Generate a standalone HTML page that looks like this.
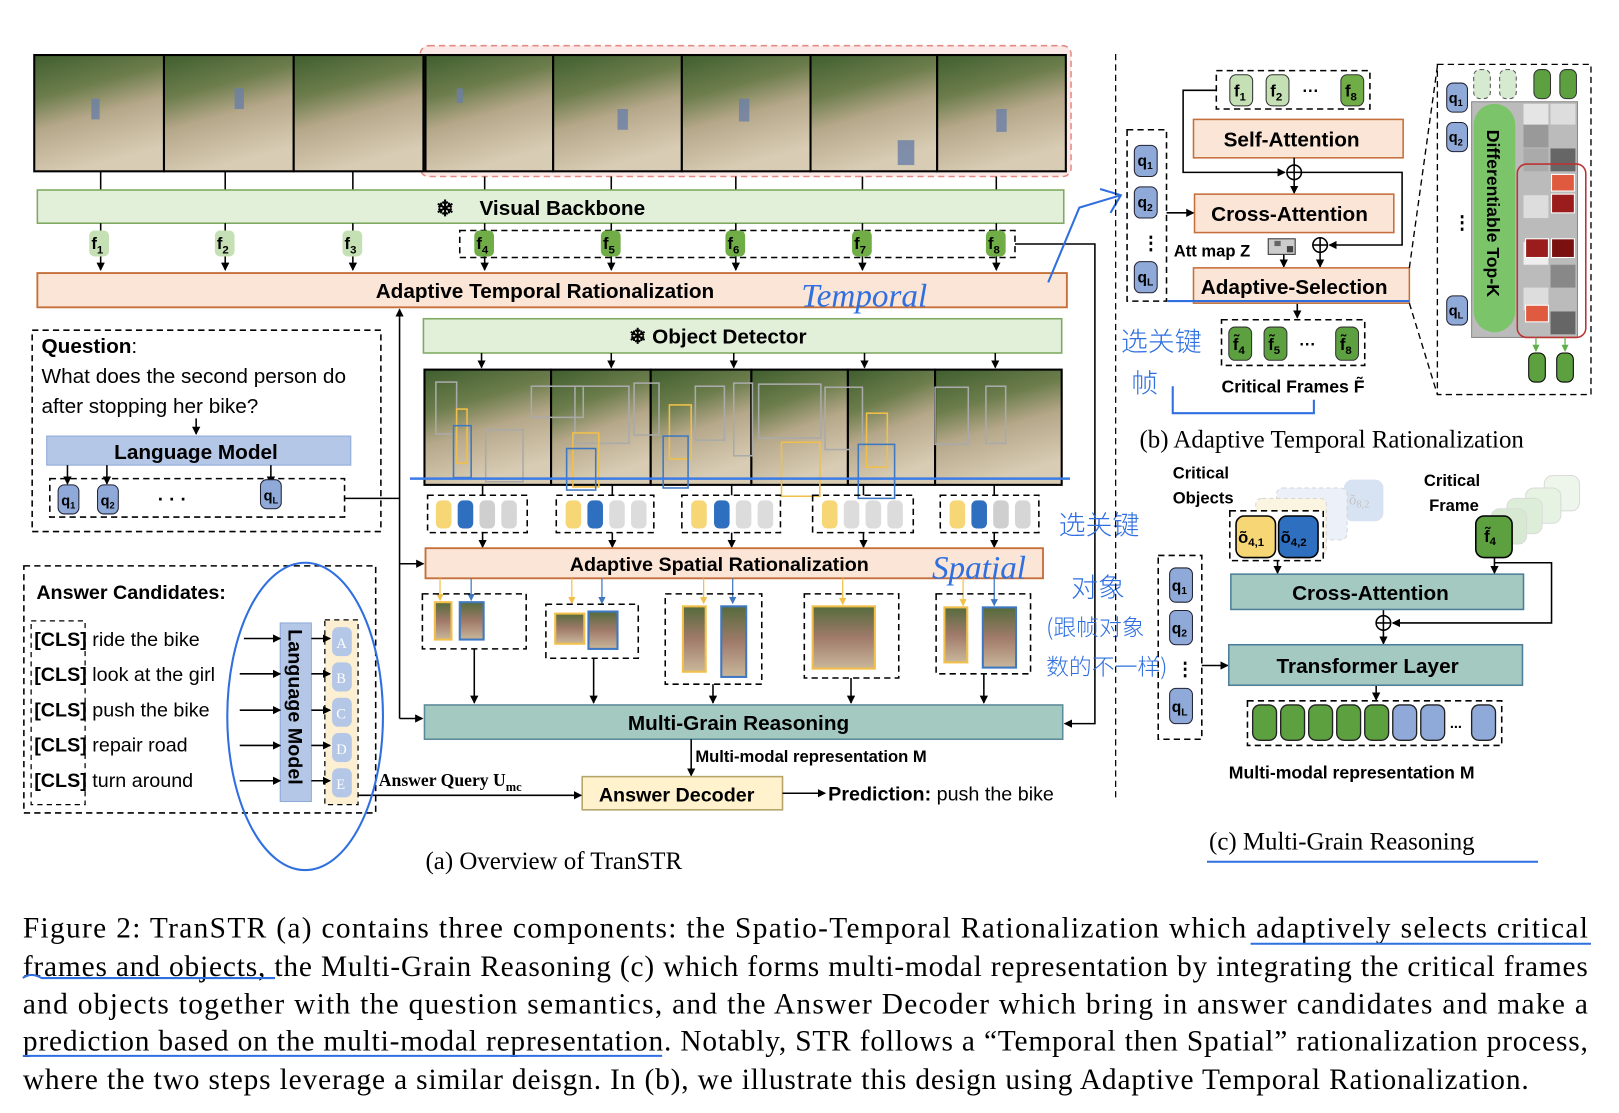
<!DOCTYPE html>
<html><head><meta charset="utf-8"><style>
html,body{margin:0;padding:0;background:#fff;width:1619px;height:1113px;overflow:hidden}
svg{display:block}
text{font-family:"Liberation Sans","Noto Sans CJK SC",sans-serif}
.b{font-weight:bold}
.serif,.serif text{font-family:"Liberation Serif","Noto Serif CJK SC",serif}
.hw,.hw text{font-family:"Noto Sans CJK SC",sans-serif}
</style></head><body>
<svg width="1619" height="1113" viewBox="0 0 1560 1072" preserveAspectRatio="none" xmlns="http://www.w3.org/2000/svg">
<defs>
<marker id="ar" markerWidth="8" markerHeight="8" refX="7" refY="4" orient="auto" markerUnits="userSpaceOnUse"><path d="M0,0L8,4L0,8z" fill="#000"/></marker>
<marker id="ay" markerWidth="7" markerHeight="7" refX="6" refY="3.5" orient="auto" markerUnits="userSpaceOnUse"><path d="M0,0L7,3.5L0,7z" fill="#f2c04a"/></marker>
<marker id="ab" markerWidth="7" markerHeight="7" refX="6" refY="3.5" orient="auto" markerUnits="userSpaceOnUse"><path d="M0,0L7,3.5L0,7z" fill="#3f78c0"/></marker>
<marker id="ag" markerWidth="7" markerHeight="7" refX="6" refY="3.5" orient="auto" markerUnits="userSpaceOnUse"><path d="M0,0L7,3.5L0,7z" fill="#5fae4a"/></marker>
<linearGradient id="ph" x1="0" y1="0" x2="0.3" y2="1">
<stop offset="0" stop-color="#3f5e2e"/><stop offset="0.35" stop-color="#6d7d4c"/><stop offset="0.6" stop-color="#b5a789"/><stop offset="1" stop-color="#d8ccb4"/></linearGradient>
<linearGradient id="ph2" x1="0" y1="0" x2="0" y2="1">
<stop offset="0" stop-color="#556b3c"/><stop offset="0.5" stop-color="#a07a6a"/><stop offset="1" stop-color="#c9b79b"/></linearGradient>
</defs>

<rect x="405" y="44" width="627" height="126" rx="8" fill="#fbe9e7" stroke="#e58b85" stroke-width="1.5" stroke-dasharray="6,4"/>
<g stroke="#000" stroke-width="2" fill="url(#ph)">
<rect x="33" y="53" width="125" height="112"/><rect x="158" y="53" width="125" height="112"/><rect x="283" y="53" width="125" height="112"/>
<rect x="410" y="53" width="123" height="112"/><rect x="533" y="53" width="124" height="112"/><rect x="657" y="53" width="124" height="112"/>
<rect x="781" y="53" width="122" height="112"/><rect x="903" y="53" width="124" height="112"/>
</g>
<g fill="#6a7fa8" opacity="0.8"><rect x="88" y="95" width="8" height="20"/><rect x="226" y="85" width="9" height="20"/><rect x="440" y="85" width="6" height="14"/><rect x="595" y="105" width="10" height="20"/><rect x="712" y="95" width="10" height="22"/><rect x="865" y="135" width="16" height="24"/><rect x="960" y="105" width="10" height="22"/></g>
<g stroke="#000" stroke-width="1.5">
<line x1="97" y1="165" x2="97" y2="183"/><line x1="217" y1="165" x2="217" y2="183"/><line x1="340" y1="165" x2="340" y2="183"/><line x1="467" y1="170" x2="467" y2="183"/><line x1="589" y1="170" x2="589" y2="183"/><line x1="709" y1="170" x2="709" y2="183"/><line x1="831" y1="170" x2="831" y2="183"/><line x1="960" y1="170" x2="960" y2="183"/>
</g>
<rect x="36" y="183" width="989" height="32" fill="#e2efd9" stroke="#7fa860" stroke-width="1.5"/>
<text x="420" y="208" font-size="21" class="b">❄</text>
<text x="462" y="207" font-size="20" class="b">Visual Backbone</text>
<rect x="443" y="222" width="535" height="26" fill="none" stroke="#000" stroke-width="1.5" stroke-dasharray="6,4"/>
<g stroke="#000" stroke-width="1.5">
<line x1="97" y1="215" x2="97" y2="260" marker-end="url(#ar)"/><line x1="217" y1="215" x2="217" y2="260" marker-end="url(#ar)"/><line x1="340" y1="215" x2="340" y2="260" marker-end="url(#ar)"/><line x1="467" y1="215" x2="467" y2="260" marker-end="url(#ar)"/><line x1="589" y1="215" x2="589" y2="260" marker-end="url(#ar)"/><line x1="709" y1="215" x2="709" y2="260" marker-end="url(#ar)"/><line x1="831" y1="215" x2="831" y2="260" marker-end="url(#ar)"/><line x1="960" y1="215" x2="960" y2="260" marker-end="url(#ar)"/>
</g>
<g font-size="16" class="b">
<rect x="86" y="222" width="19" height="25" rx="5" fill="#c5e0b4"/><text x="88" y="240">f<tspan font-size="11" dy="4">1</tspan></text>
<rect x="207" y="222" width="19" height="25" rx="5" fill="#c5e0b4"/><text x="209" y="240">f<tspan font-size="11" dy="4">2</tspan></text>
<rect x="330" y="222" width="19" height="25" rx="5" fill="#c5e0b4"/><text x="332" y="240">f<tspan font-size="11" dy="4">3</tspan></text>
<rect x="457" y="222" width="19" height="25" rx="5" fill="#70ad47"/><text x="459" y="240">f<tspan font-size="11" dy="4">4</tspan></text>
<rect x="579" y="222" width="19" height="25" rx="5" fill="#70ad47"/><text x="581" y="240">f<tspan font-size="11" dy="4">5</tspan></text>
<rect x="699" y="222" width="19" height="25" rx="5" fill="#70ad47"/><text x="701" y="240">f<tspan font-size="11" dy="4">6</tspan></text>
<rect x="821" y="222" width="19" height="25" rx="5" fill="#70ad47"/><text x="823" y="240">f<tspan font-size="11" dy="4">7</tspan></text>
<rect x="950" y="222" width="19" height="25" rx="5" fill="#70ad47"/><text x="952" y="240">f<tspan font-size="11" dy="4">8</tspan></text>
</g>
<rect x="36" y="263" width="992" height="33" fill="#fbe5d6" stroke="#c5703a" stroke-width="1.8"/>
<text x="362" y="287" font-size="20" class="b">Adaptive Temporal Rationalization</text>
<polyline points="978,235 1055,235 1055,697 1026,697" fill="none" stroke="#000" stroke-width="1.5" marker-end="url(#ar)"/>

<rect x="408" y="307" width="615" height="33" fill="#e2efd9" stroke="#7fa860" stroke-width="1.5"/>
<text x="606" y="331" font-size="20" class="b">❄ Object Detector</text>
<g stroke="#000" stroke-width="1.5">
<line x1="464" y1="340" x2="464" y2="354" marker-end="url(#ar)"/><line x1="589" y1="340" x2="589" y2="354" marker-end="url(#ar)"/><line x1="707" y1="340" x2="707" y2="354" marker-end="url(#ar)"/><line x1="833" y1="340" x2="833" y2="354" marker-end="url(#ar)"/><line x1="959" y1="340" x2="959" y2="354" marker-end="url(#ar)"/>
</g>
<g stroke="#000" stroke-width="2" fill="url(#ph)">
<rect x="409" y="356" width="122" height="111"/><rect x="531" y="356" width="96" height="111"/><rect x="627" y="356" width="97" height="111"/><rect x="724" y="356" width="93" height="111"/><rect x="817" y="356" width="84" height="111"/><rect x="901" y="356" width="122" height="111"/>
</g>
<g fill="none" stroke-width="1.5">
<g stroke="#aaa"><rect x="420" y="368" width="20" height="50"/><rect x="468" y="414" width="36" height="50"/><rect x="512" y="372" width="50" height="30"/><rect x="554" y="372" width="52" height="55"/><rect x="611" y="369" width="24" height="50"/><rect x="670" y="372" width="28" height="52"/><rect x="707" y="369" width="18" height="70"/><rect x="731" y="370" width="60" height="52"/><rect x="795" y="373" width="36" height="60"/><rect x="901" y="373" width="32" height="55"/><rect x="950" y="372" width="19" height="55"/></g>
<g stroke="#f2c04a"><rect x="440" y="394" width="10" height="52"/><rect x="552" y="417" width="25" height="52"/><rect x="645" y="390" width="21" height="52"/><rect x="753" y="426" width="37" height="52"/><rect x="835" y="398" width="20" height="52"/></g>
<g stroke="#3f78c0"><rect x="437" y="410" width="17" height="50"/><rect x="546" y="432" width="28" height="40"/><rect x="639" y="420" width="24" height="50"/><rect x="827" y="428" width="35" height="52"/></g>
</g>
<line x1="395" y1="461" x2="1031" y2="461" stroke="#3b7be6" stroke-width="2.5"/>
<g stroke="#000" stroke-width="1.5" fill="none" stroke-dasharray="6,4">
<rect x="412" y="477" width="96" height="36"/><rect x="536" y="477" width="94" height="36"/><rect x="657" y="477" width="95" height="36"/><rect x="783" y="477" width="97" height="36"/><rect x="906" y="477" width="95" height="36"/>
</g>
<g>
<rect x="420" y="482" width="15" height="27" rx="5" fill="#f7d675"/><rect x="441" y="482" width="15" height="27" rx="5" fill="#2f6fbf"/><rect x="462" y="482" width="15" height="27" rx="5" fill="#cfcfcf"/><rect x="483" y="482" width="15" height="27" rx="5" fill="#d6d6d6"/>
<rect x="545" y="482" width="15" height="27" rx="5" fill="#f7d675"/><rect x="566" y="482" width="15" height="27" rx="5" fill="#2f6fbf"/><rect x="587" y="482" width="15" height="27" rx="5" fill="#dcdcdc"/><rect x="608" y="482" width="15" height="27" rx="5" fill="#dcdcdc"/>
<rect x="666" y="482" width="15" height="27" rx="5" fill="#f7d675"/><rect x="688" y="482" width="15" height="27" rx="5" fill="#2f6fbf"/><rect x="709" y="482" width="15" height="27" rx="5" fill="#dcdcdc"/><rect x="730" y="482" width="15" height="27" rx="5" fill="#dcdcdc"/>
<rect x="792" y="482" width="15" height="27" rx="5" fill="#f7d675"/><rect x="813" y="482" width="15" height="27" rx="5" fill="#dcdcdc"/><rect x="834" y="482" width="15" height="27" rx="5" fill="#dcdcdc"/><rect x="855" y="482" width="15" height="27" rx="5" fill="#dcdcdc"/>
<rect x="915" y="482" width="15" height="27" rx="5" fill="#f7d675"/><rect x="936" y="482" width="15" height="27" rx="5" fill="#2f6fbf"/><rect x="957" y="482" width="15" height="27" rx="5" fill="#cfcfcf"/><rect x="978" y="482" width="15" height="27" rx="5" fill="#d6d6d6"/>
</g>
<g stroke="#000" stroke-width="1.5">
<line x1="465" y1="467" x2="465" y2="477"/><line x1="590" y1="467" x2="590" y2="477"/><line x1="705" y1="467" x2="705" y2="477"/><line x1="832" y1="467" x2="832" y2="477"/><line x1="958" y1="467" x2="958" y2="477"/>
<line x1="465" y1="513" x2="465" y2="527" marker-end="url(#ar)"/><line x1="590" y1="513" x2="590" y2="527" marker-end="url(#ar)"/><line x1="705" y1="513" x2="705" y2="527" marker-end="url(#ar)"/><line x1="832" y1="513" x2="832" y2="527" marker-end="url(#ar)"/><line x1="958" y1="513" x2="958" y2="527" marker-end="url(#ar)"/>
</g>
<rect x="410" y="528" width="595" height="29" fill="#fbe5d6" stroke="#c5703a" stroke-width="1.8"/>
<text x="549" y="550" font-size="19" class="b">Adaptive Spatial Rationalization</text>
<g stroke-width="1.2">
<line x1="424" y1="557" x2="424" y2="578" stroke="#f2c04a" marker-end="url(#ay)"/><line x1="454" y1="557" x2="454" y2="578" stroke="#3f78c0" marker-end="url(#ab)"/>
<line x1="551" y1="557" x2="551" y2="581" stroke="#f2c04a" marker-end="url(#ay)"/><line x1="580" y1="557" x2="580" y2="581" stroke="#3f78c0" marker-end="url(#ab)"/>
<line x1="678" y1="557" x2="678" y2="581" stroke="#f2c04a" marker-end="url(#ay)"/><line x1="706" y1="557" x2="706" y2="581" stroke="#3f78c0" marker-end="url(#ab)"/>
<line x1="812" y1="557" x2="812" y2="582" stroke="#f2c04a" marker-end="url(#ay)"/>
<line x1="928" y1="557" x2="928" y2="583" stroke="#f2c04a" marker-end="url(#ay)"/><line x1="958" y1="557" x2="958" y2="583" stroke="#3f78c0" marker-end="url(#ab)"/>
</g>
<g stroke="#000" stroke-width="1.5" fill="none" stroke-dasharray="6,4">
<rect x="407" y="572" width="100" height="53"/><rect x="526" y="582" width="89" height="52"/><rect x="641" y="572" width="93" height="87"/><rect x="775" y="572" width="91" height="81"/><rect x="902" y="572" width="91" height="77"/>
</g>
<g fill="url(#ph2)" stroke-width="2">
<rect x="419" y="580" width="16" height="36" stroke="#f2c04a"/><rect x="443" y="580" width="23" height="36" stroke="#3f78c0"/>
<rect x="535" y="591" width="28" height="29" stroke="#f2c04a"/><rect x="567" y="589" width="28" height="36" stroke="#3f78c0"/>
<rect x="658" y="584" width="22" height="63" stroke="#f2c04a"/><rect x="695" y="584" width="24" height="68" stroke="#3f78c0"/>
<rect x="783" y="584" width="60" height="60" stroke="#f2c04a"/>
<rect x="910" y="585" width="22" height="53" stroke="#f2c04a"/><rect x="947" y="585" width="32" height="58" stroke="#3f78c0"/>
</g>
<g stroke="#000" stroke-width="1.5">
<line x1="457" y1="625" x2="457" y2="677" marker-end="url(#ar)"/><line x1="572" y1="634" x2="572" y2="677" marker-end="url(#ar)"/><line x1="687" y1="659" x2="687" y2="677" marker-end="url(#ar)"/><line x1="820" y1="653" x2="820" y2="677" marker-end="url(#ar)"/><line x1="948" y1="649" x2="948" y2="677" marker-end="url(#ar)"/>
</g>
<rect x="409" y="679" width="615" height="33" fill="#a3c9c0" stroke="#5b8a9a" stroke-width="1.5"/>
<text x="605" y="703" font-size="20" class="b">Multi-Grain Reasoning</text>
<line x1="666" y1="712" x2="666" y2="747" stroke="#000" stroke-width="1.5" marker-end="url(#ar)"/>
<text x="670" y="734" font-size="16" class="b">Multi-modal representation M</text>
<rect x="561" y="748" width="193" height="32" fill="#fff2cc" stroke="#b5a36a" stroke-width="1.5"/>
<text x="577" y="772" font-size="19" class="b">Answer Decoder</text>
<line x1="754" y1="764" x2="795" y2="764" stroke="#000" stroke-width="1.5" marker-end="url(#ar)"/>
<text x="798" y="771" font-size="19"><tspan class="b">Prediction:</tspan> push the bike</text>
<text x="365" y="757" font-size="17" class="serif b">Answer Query U<tspan font-size="12" dy="5">mc</tspan></text>
<polyline points="345,766 560,766" fill="none" stroke="#000" stroke-width="1.5" marker-end="url(#ar)"/>

<g stroke="#000" stroke-width="1.5" fill="none">
<line x1="385" y1="692" x2="385" y2="306"/><polyline points="385,306 385,298" marker-end="url(#ar)"/>
<line x1="332" y1="480" x2="385" y2="480"/>
<line x1="385" y1="692" x2="407" y2="692" marker-end="url(#ar)"/>
<line x1="385" y1="543" x2="408" y2="543" marker-end="url(#ar)"/>
</g>

<rect x="31" y="318" width="336" height="194" fill="none" stroke="#000" stroke-width="1.5" stroke-dasharray="6,4"/>
<text x="40" y="340" font-size="20"><tspan class="b">Question</tspan>:</text>
<text x="40" y="369" font-size="20">What does the second person do</text>
<text x="40" y="398" font-size="20">after stopping her bike?</text>
<line x1="189" y1="403" x2="189" y2="418" stroke="#000" stroke-width="1.5" marker-end="url(#ar)"/>
<rect x="45" y="420" width="293" height="28" fill="#b4c7e7" stroke="#8fa9d8"/>
<text x="110" y="442" font-size="20" class="b">Language Model</text>
<rect x="48" y="461" width="284" height="37" fill="none" stroke="#000" stroke-width="1.5" stroke-dasharray="6,4"/>
<g stroke="#000" stroke-width="1.5"><line x1="65" y1="448" x2="65" y2="466" marker-end="url(#ar)"/><line x1="103" y1="448" x2="103" y2="466" marker-end="url(#ar)"/><line x1="261" y1="448" x2="261" y2="466" marker-end="url(#ar)"/></g>
<g font-size="14" class="b">
<rect x="56" y="467" width="20" height="28" rx="6" fill="#8fa9d8" stroke="#223" stroke-width="1"/><text x="59" y="487">q<tspan font-size="9" dy="3">1</tspan></text>
<rect x="94" y="467" width="20" height="28" rx="6" fill="#8fa9d8" stroke="#223" stroke-width="1"/><text x="97" y="487">q<tspan font-size="9" dy="3">2</tspan></text>
<rect x="251" y="462" width="20" height="28" rx="6" fill="#8fa9d8" stroke="#223" stroke-width="1"/><text x="254" y="482">q<tspan font-size="9" dy="3">L</tspan></text>
</g>
<text x="152" y="487" font-size="18" class="b">·   ·   ·</text>

<rect x="23" y="545" width="339" height="238" fill="none" stroke="#000" stroke-width="1.5" stroke-dasharray="6,4"/>
<text x="35" y="577" font-size="19" class="b">Answer Candidates:</text>
<rect x="30" y="598" width="52" height="177" fill="none" stroke="#000" stroke-width="1.2" stroke-dasharray="5,4"/>
<rect x="313" y="597" width="32" height="178" fill="#fdf0d2" stroke="#000" stroke-width="1.2" stroke-dasharray="5,4"/>
<rect x="270" y="600" width="30" height="172" fill="#b4c7e7" stroke="#8fa9d8"/>
<text transform="translate(278,606) rotate(90)" font-size="19" class="b">Language Model</text>
<g font-size="19">
<text x="33" y="622"><tspan class="b">[CLS]</tspan> ride the bike</text>
<text x="33" y="656"><tspan class="b">[CLS]</tspan> look at the girl</text>
<text x="33" y="690"><tspan class="b">[CLS]</tspan> push the bike</text>
<text x="33" y="724"><tspan class="b">[CLS]</tspan> repair road</text>
<text x="33" y="758"><tspan class="b">[CLS]</tspan> turn around</text>
</g>
<g stroke="#000" stroke-width="1.5">
<line x1="235" y1="615" x2="270" y2="615" marker-end="url(#ar)"/><line x1="231" y1="649" x2="270" y2="649" marker-end="url(#ar)"/><line x1="231" y1="684" x2="270" y2="684" marker-end="url(#ar)"/><line x1="231" y1="718" x2="270" y2="718" marker-end="url(#ar)"/><line x1="231" y1="752" x2="270" y2="752" marker-end="url(#ar)"/>
<line x1="300" y1="615" x2="318" y2="615" marker-end="url(#ar)"/><line x1="300" y1="649" x2="318" y2="649" marker-end="url(#ar)"/><line x1="300" y1="684" x2="318" y2="684" marker-end="url(#ar)"/><line x1="300" y1="718" x2="318" y2="718" marker-end="url(#ar)"/><line x1="300" y1="752" x2="318" y2="752" marker-end="url(#ar)"/>
</g>
<g fill="#b4c7e7"><rect x="320" y="604" width="19" height="28" rx="6"/><rect x="320" y="638" width="19" height="28" rx="6"/><rect x="320" y="672" width="19" height="28" rx="6"/><rect x="320" y="706" width="19" height="28" rx="6"/><rect x="320" y="740" width="19" height="28" rx="6"/></g>
<g font-size="14" fill="#fff" class="serif"><text x="324" y="624">A</text><text x="324" y="658">B</text><text x="324" y="692">C</text><text x="324" y="726">D</text><text x="324" y="760">E</text></g>
<ellipse cx="294" cy="690" rx="75" ry="148" fill="none" stroke="#2f6fe0" stroke-width="2"/>
<text x="410" y="837" font-size="24" class="serif">(a) Overview of TranSTR</text>

<text x="772" y="295" font-size="32" fill="#2f6fe0" class="serif" font-style="italic">Temporal</text>
<path d="M1010,272 L1040,200 L1080,188 M1060,182 L1080,188 L1070,205" fill="none" stroke="#2f6fe0" stroke-width="2"/>
<text x="898" y="557" font-size="32" fill="#2f6fe0" class="serif" font-style="italic">Spatial</text>
<g fill="#2f6fe0" class="hw" font-weight="300">
<text x="1020" y="515" font-size="26">选关键</text><text x="1032" y="575" font-size="26">对象</text><text x="1008" y="612" font-size="22">(跟帧对象</text><text x="1008" y="650" font-size="22">数的不一样)</text>
<text x="1080" y="338" font-size="26">选关键</text><text x="1090" y="378" font-size="26">帧</text>
</g>
<path d="M1130,372 L1130,398 L1266,398 L1266,385" fill="none" stroke="#2f6fe0" stroke-width="2"/>

<line x1="1075" y1="52" x2="1075" y2="770" stroke="#000" stroke-width="1.2" stroke-dasharray="6,4"/>

<rect x="1172" y="68" width="148" height="37" fill="none" stroke="#000" stroke-width="1.5" stroke-dasharray="6,4"/>
<g font-size="16" class="b">
<rect x="1185" y="72" width="22" height="30" rx="6" fill="#c5e0b4" stroke="#333"/><text x="1189" y="93">f<tspan font-size="11" dy="4">1</tspan></text>
<rect x="1220" y="72" width="22" height="30" rx="6" fill="#c5e0b4" stroke="#333"/><text x="1224" y="93">f<tspan font-size="11" dy="4">2</tspan></text>
<text x="1255" y="93">···</text>
<rect x="1292" y="72" width="22" height="30" rx="6" fill="#70ad47" stroke="#333"/><text x="1296" y="93">f<tspan font-size="11" dy="4">8</tspan></text>
</g>
<rect x="1150" y="115" width="202" height="37" fill="#fbe5d6" stroke="#c5703a" stroke-width="1.5"/>
<text x="1179" y="141" font-size="20" class="b">Self-Attention</text>
<g stroke="#000" stroke-width="1.5" fill="none">
<polyline points="1172,87 1140,87 1140,166 1238,166" marker-end="url(#ar)"/>
<circle cx="1247" cy="166" r="7"/><line x1="1240" y1="166" x2="1254" y2="166"/><line x1="1247" y1="159" x2="1247" y2="173"/>
<line x1="1247" y1="152" x2="1247" y2="159"/>
<line x1="1247" y1="173" x2="1247" y2="186" marker-end="url(#ar)"/>
<polyline points="1254,166 1351,166 1351,236 1281,236" marker-end="url(#ar)"/>
<circle cx="1272" cy="236" r="7"/><line x1="1265" y1="236" x2="1279" y2="236"/><line x1="1272" y1="229" x2="1272" y2="243"/>
<line x1="1272" y1="243" x2="1272" y2="257" marker-end="url(#ar)"/>
<line x1="1237" y1="245" x2="1237" y2="257" marker-end="url(#ar)"/>
<line x1="1124" y1="205" x2="1150" y2="205" marker-end="url(#ar)"/>
<line x1="1250" y1="292" x2="1250" y2="306" marker-end="url(#ar)"/>
</g>
<rect x="1151" y="187" width="192" height="37" fill="#fbe5d6" stroke="#c5703a" stroke-width="1.5"/>
<text x="1167" y="213" font-size="20" class="b">Cross-Attention</text>
<rect x="1086" y="125" width="38" height="165" fill="none" stroke="#000" stroke-width="1.5" stroke-dasharray="6,4"/>
<g font-size="15" class="b">
<rect x="1093" y="140" width="22" height="30" rx="6" fill="#8fa9d8" stroke="#223"/><text x="1096" y="160">q<tspan font-size="10" dy="3">1</tspan></text>
<rect x="1093" y="180" width="22" height="30" rx="6" fill="#8fa9d8" stroke="#223"/><text x="1096" y="200">q<tspan font-size="10" dy="3">2</tspan></text>
<text x="1100" y="240" font-size="18">⋮</text>
<rect x="1093" y="252" width="22" height="30" rx="6" fill="#8fa9d8" stroke="#223"/><text x="1096" y="272">q<tspan font-size="10" dy="3">L</tspan></text>
</g>
<text x="1131" y="247" font-size="16" class="b">Att map Z</text>
<g><rect x="1222" y="230" width="26" height="15" fill="#ccc" stroke="#333"/><rect x="1228" y="232" width="6" height="5" fill="#666"/><rect x="1240" y="237" width="6" height="6" fill="#444"/></g>
<rect x="1150" y="258" width="208" height="34" fill="#fbe5d6" stroke="#c5703a" stroke-width="1.5"/>
<text x="1157" y="283" font-size="20" class="b">Adaptive-Selection</text>
<line x1="1125" y1="290" x2="1358" y2="290" stroke="#2f6fe0" stroke-width="2"/>
<rect x="1177" y="308" width="138" height="44" fill="none" stroke="#000" stroke-width="1.5" stroke-dasharray="6,4"/>
<g font-size="16" class="b">
<rect x="1184" y="315" width="22" height="32" rx="6" fill="#5da03f" stroke="#333"/><text x="1188" y="337">f̃<tspan font-size="11" dy="4">4</tspan></text>
<rect x="1218" y="315" width="22" height="32" rx="6" fill="#5da03f" stroke="#333"/><text x="1222" y="337">f̃<tspan font-size="11" dy="4">5</tspan></text>
<text x="1252" y="337">···</text>
<rect x="1287" y="315" width="22" height="32" rx="6" fill="#5da03f" stroke="#333"/><text x="1291" y="337">f̃<tspan font-size="11" dy="4">8</tspan></text>
</g>
<text x="1177" y="378" font-size="17" class="b">Critical Frames F̃</text>
<g stroke="#000" stroke-width="1.3" stroke-dasharray="6,4" fill="none">
<line x1="1358" y1="258" x2="1385" y2="64"/><line x1="1358" y1="292" x2="1385" y2="380"/>
<rect x="1385" y="62" width="148" height="318"/>
</g>
<g>
<rect x="1418" y="98" width="102" height="227" fill="#bbb" stroke="#888"/>
<g fill="#999"><rect x="1468" y="120" width="24" height="22"/><rect x="1494" y="143" width="24" height="22" fill="#666"/><rect x="1468" y="143" width="24" height="22" fill="#aaa"/><rect x="1468" y="188" width="24" height="22" fill="#ddd"/><rect x="1468" y="233" width="24" height="22" fill="#eee"/><rect x="1494" y="255" width="24" height="22" fill="#888"/><rect x="1468" y="277" width="24" height="22" fill="#ddd"/><rect x="1494" y="300" width="24" height="22" fill="#666"/><rect x="1494" y="100" width="24" height="20" fill="#ddd"/><rect x="1468" y="100" width="24" height="20" fill="#e5e5e5"/></g>
<rect x="1420" y="100" width="40" height="220" rx="20" fill="#7cc46a"/>
<text transform="translate(1433,125) rotate(90)" font-size="17" class="b">Differentiable Top-K</text>
<rect x="1462" y="158" width="66" height="167" rx="9" fill="none" stroke="#b33" stroke-width="1.5"/>
<rect x="1495" y="168" width="22" height="16" fill="#e05a40" stroke="#fff"/><rect x="1495" y="187" width="22" height="18" fill="#9b1c1c" stroke="#fff"/><rect x="1470" y="230" width="22" height="18" fill="#9b1c1c" stroke="#fff"/><rect x="1495" y="230" width="22" height="18" fill="#7a1010" stroke="#fff"/><rect x="1470" y="294" width="22" height="16" fill="#e05a40" stroke="#fff"/>
<g stroke="#5fae4a" stroke-width="1.2"><line x1="1480" y1="325" x2="1480" y2="338" marker-end="url(#ag)"/><line x1="1508" y1="325" x2="1508" y2="338" marker-end="url(#ag)"/></g>
<rect x="1473" y="340" width="16" height="28" rx="6" fill="#5da03f" stroke="#000"/><rect x="1500" y="340" width="16" height="28" rx="6" fill="#5da03f" stroke="#000"/>
<rect x="1420" y="67" width="16" height="28" rx="6" fill="#d6ead0" stroke="#555" stroke-dasharray="4,3"/><rect x="1445" y="67" width="16" height="28" rx="6" fill="#d6ead0" stroke="#555" stroke-dasharray="4,3"/>
<rect x="1478" y="67" width="16" height="28" rx="6" fill="#5da03f" stroke="#333"/><rect x="1503" y="67" width="16" height="28" rx="6" fill="#5da03f" stroke="#333"/>
<g font-size="14" class="b">
<rect x="1394" y="80" width="20" height="28" rx="6" fill="#8fa9d8" stroke="#223"/><text x="1396" y="99">q<tspan font-size="9" dy="3">1</tspan></text>
<rect x="1394" y="118" width="20" height="28" rx="6" fill="#8fa9d8" stroke="#223"/><text x="1396" y="137">q<tspan font-size="9" dy="3">2</tspan></text>
<text x="1400" y="220" font-size="18">⋮</text>
<rect x="1394" y="285" width="20" height="28" rx="6" fill="#8fa9d8" stroke="#223"/><text x="1396" y="304">q<tspan font-size="9" dy="3">L</tspan></text>
</g>
</g>
<text x="1098" y="431" font-size="24" class="serif">(b) Adaptive Temporal Rationalization</text>

<text x="1130" y="461" font-size="16" class="b">Critical</text><text x="1130" y="485" font-size="16" class="b">Objects</text>
<text x="1372" y="468" font-size="16" class="b">Critical</text><text x="1377" y="492" font-size="16" class="b">Frame</text>
<g opacity="0.35">
<rect x="1295" y="462" width="38" height="40" rx="8" fill="#8fb0dd"/><text x="1300" y="486" font-size="14" class="serif" fill="#555">õ<tspan font-size="10" dy="3">8,2</tspan></text>
<rect x="1230" y="470" width="68" height="50" rx="6" fill="#c9d8ef" stroke="#888" stroke-dasharray="4,3"/>
<rect x="1210" y="480" width="68" height="55" rx="6" fill="#f4e1a8" stroke="#888" stroke-dasharray="4,3"/>
<rect x="1488" y="458" width="34" height="34" rx="8" fill="#cfe5c8" stroke="#999"/>
<rect x="1470" y="470" width="34" height="34" rx="8" fill="#b8dcae" stroke="#999"/>
<rect x="1452" y="480" width="34" height="34" rx="8" fill="#a0cf92" stroke="#999"/>
<rect x="1437" y="490" width="34" height="34" rx="8" fill="#8fc47e" stroke="#999"/>
</g>
<rect x="1185" y="492" width="90" height="48" fill="#fff" stroke="#000" stroke-width="1.5" stroke-dasharray="6,4"/>
<rect x="1191" y="497" width="38" height="40" rx="8" fill="#f7d675" stroke="#000" stroke-width="1.5"/><text x="1193" y="523" font-size="16" class="b">õ<tspan font-size="11" dy="3">4,1</tspan></text>
<rect x="1232" y="497" width="38" height="40" rx="8" fill="#2f6fbf" stroke="#000" stroke-width="1.5"/><text x="1234" y="523" font-size="16" class="b">õ<tspan font-size="11" dy="3">4,2</tspan></text>
<rect x="1422" y="497" width="35" height="40" rx="8" fill="#5da03f" stroke="#000" stroke-width="1.5"/><text x="1430" y="522" font-size="16" class="b">f̃<tspan font-size="11" dy="3">4</tspan></text>
<g stroke="#000" stroke-width="1.5" fill="none">
<line x1="1231" y1="540" x2="1231" y2="552" marker-end="url(#ar)"/>
<line x1="1440" y1="537" x2="1440" y2="552" marker-end="url(#ar)"/>
<polyline points="1440,542 1495,542 1495,600 1342,600" marker-end="url(#ar)"/>
<circle cx="1333" cy="600" r="7"/><line x1="1326" y1="600" x2="1340" y2="600"/><line x1="1333" y1="593" x2="1333" y2="607"/>
<line x1="1333" y1="587" x2="1333" y2="593"/>
<line x1="1333" y1="607" x2="1333" y2="620" marker-end="url(#ar)"/>
<line x1="1158" y1="641" x2="1183" y2="641" marker-end="url(#ar)"/>
<line x1="1326" y1="660" x2="1326" y2="674" marker-end="url(#ar)"/>
</g>
<rect x="1186" y="553" width="282" height="34" fill="#a3c9c0" stroke="#4d7f9a" stroke-width="1.5"/>
<text x="1245" y="578" font-size="20" class="b">Cross-Attention</text>
<rect x="1184" y="621" width="283" height="39" fill="#a3c9c0" stroke="#4d7f9a" stroke-width="1.5"/>
<text x="1230" y="648" font-size="20" class="b">Transformer Layer</text>
<rect x="1116" y="535" width="42" height="177" fill="none" stroke="#000" stroke-width="1.5" stroke-dasharray="6,4"/>
<g font-size="15" class="b">
<rect x="1127" y="547" width="22" height="33" rx="6" fill="#8fa9d8" stroke="#223"/><text x="1129" y="569">q<tspan font-size="10" dy="3">1</tspan></text>
<rect x="1127" y="588" width="22" height="33" rx="6" fill="#8fa9d8" stroke="#223"/><text x="1129" y="610">q<tspan font-size="10" dy="3">2</tspan></text>
<text x="1133" y="650" font-size="18">⋮</text>
<rect x="1127" y="663" width="22" height="34" rx="6" fill="#8fa9d8" stroke="#223"/><text x="1129" y="686">q<tspan font-size="10" dy="3">L</tspan></text>
</g>
<rect x="1202" y="675" width="245" height="43" fill="none" stroke="#000" stroke-width="1.5" stroke-dasharray="6,4"/>
<g stroke="#222" stroke-width="1.3">
<rect x="1207" y="679" width="23" height="34" rx="7" fill="#5da03f"/><rect x="1234" y="679" width="23" height="34" rx="7" fill="#5da03f"/><rect x="1261" y="679" width="23" height="34" rx="7" fill="#5da03f"/><rect x="1288" y="679" width="23" height="34" rx="7" fill="#5da03f"/><rect x="1315" y="679" width="23" height="34" rx="7" fill="#5da03f"/>
<rect x="1342" y="679" width="23" height="34" rx="7" fill="#8fa9d8"/><rect x="1369" y="679" width="23" height="34" rx="7" fill="#8fa9d8"/><rect x="1418" y="679" width="23" height="34" rx="7" fill="#8fa9d8"/>
</g>
<text x="1397" y="701" font-size="14" class="b">...</text>
<text x="1184" y="750" font-size="17" class="b">Multi-modal representation M</text>
<text x="1165" y="818" font-size="24" class="serif">(c) Multi-Grain Reasoning</text>
<line x1="1163" y1="830" x2="1482" y2="830" stroke="#2f6fe0" stroke-width="2"/>

<g class="serif" font-size="28.3">
<text x="22" y="903" textLength="1508" lengthAdjust="spacing">Figure 2: TranSTR (a) contains three components: the Spatio-Temporal Rationalization which adaptively selects critical</text>
<text x="22" y="940" textLength="1508" lengthAdjust="spacing">frames and objects, the Multi-Grain Reasoning (c) which forms multi-modal representation by integrating the critical frames</text>
<text x="22" y="976" textLength="1508" lengthAdjust="spacing">and objects together with the question semantics, and the Answer Decoder which bring in answer candidates and make a</text>
<text x="22" y="1012" textLength="1508" lengthAdjust="spacing">prediction based on the multi-modal representation. Notably, STR follows a “Temporal then Spatial” rationalization process,</text>
<text x="22" y="1049" textLength="1451" lengthAdjust="spacing">where the two steps leverage a similar deisgn. In (b), we illustrate this design using Adaptive Temporal Rationalization.</text>
</g>
<g stroke="#2f6fe0" stroke-width="2" fill="none">
<path d="M1205,909 L1533,909"/>
<path d="M22,942 Q30,936 40,942 L265,942"/>
<path d="M22,1017 L638,1017"/>
</g>
</svg>
</body></html>
